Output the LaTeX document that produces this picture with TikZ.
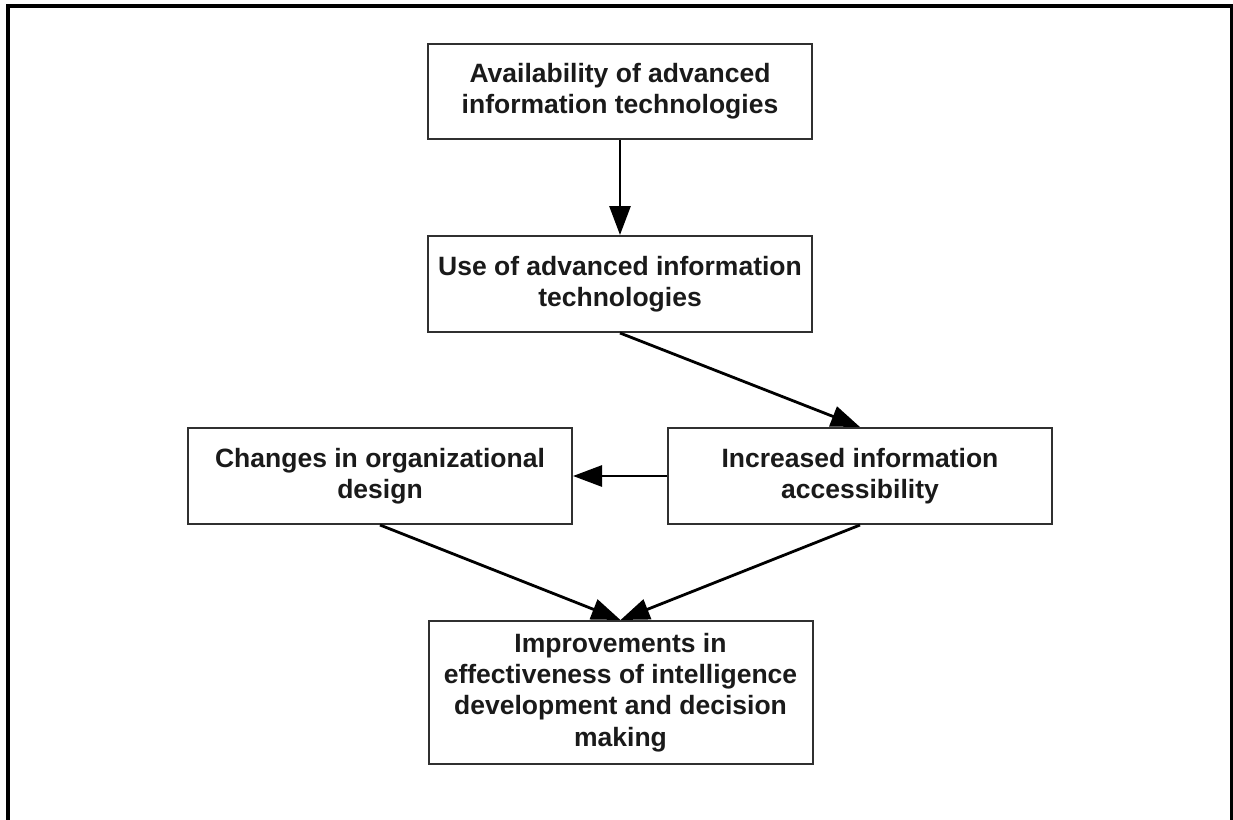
\documentclass[tikz,border=0pt]{standalone}
\usepackage{fontspec}
\setmainfont{Liberation Sans}
\usetikzlibrary{arrows.meta}
\definecolor{boxline}{HTML}{303030}
\definecolor{txt}{HTML}{1A1A1A}
\begin{document}
\begin{tikzpicture}[x=0.5pt,y=-0.5pt,
  flowbox/.style={draw=boxline,line width=1pt,rectangle,minimum width=192pt,
    inner sep=0pt,align=center,text=txt,
    font=\fontsize{13.25pt}{15.6pt}\selectfont\bfseries},
  flowarrow/.style={draw=black,line width=1.4pt,
    -{Triangle[length=14.5pt,width=10.5pt]},shorten >=0pt}]
\useasboundingbox (0,0) rectangle (1233,820);
% outer frame (open at bottom)
\draw[line width=1.6pt,black] (8,820) -- (8,6) -- (1231.5,6) -- (1231.5,820);
\node[flowbox,minimum height=47.5pt] (avail) at (620,91.5)
  {Availability of advanced\\information technologies};
\node[flowbox,minimum height=48pt] (use) at (620,284)
  {Use of advanced information\\technologies};
\node[flowbox,minimum height=48pt] (changes) at (380,476)
  {Changes in organizational\\design};
\node[flowbox,minimum height=48pt] (access) at (860,476)
  {Increased information\\accessibility};
\node[flowbox,minimum height=71.5pt] (improve) at (620.5,692.5)
  {Improvements in\\effectiveness of intelligence\\development and decision\\making};
\draw[flowarrow] (avail.south) -- (use.north);
\draw[flowarrow] (use.south) -- (access.north);
\draw[flowarrow] (access.west) -- (changes.east);
\draw[flowarrow] (changes.south) -- (improve.north);
\draw[flowarrow] (access.south) -- (improve.north);
\end{tikzpicture}
\end{document}
